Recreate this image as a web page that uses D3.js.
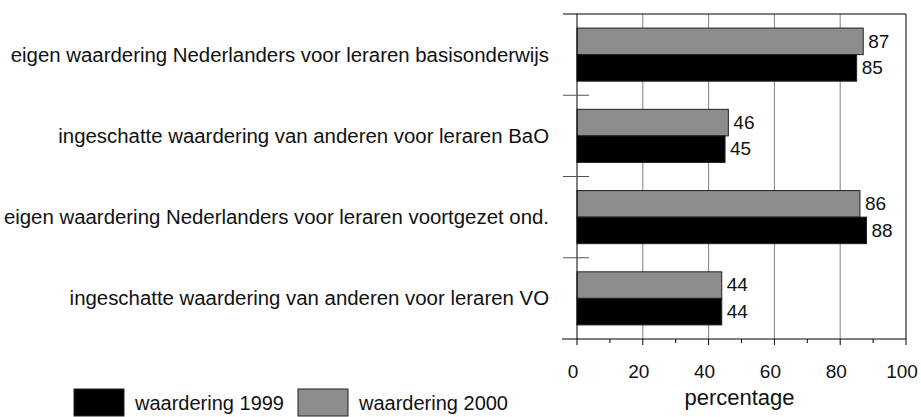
<!DOCTYPE html>
<html>
<head>
<meta charset="utf-8">
<script src="https://cdn.jsdelivr.net/npm/d3@7"></script>
<style>
  body { margin: 0; background: #fff; }
  text { font-family: "Liberation Sans", Arial, sans-serif; fill: #111; }
</style>
</head>
<body>
<div id="vis"></div>
<script>
// Waardering leraren 1999 / 2000

var categories = [
  'eigen waardering Nederlanders voor leraren basisonderwijs',
  'ingeschatte waardering van anderen voor leraren BaO',
  'eigen waardering Nederlanders voor leraren voortgezet ond.',
  'ingeschatte waardering van anderen voor leraren VO'
];
var series = ['waardering 2000', 'waardering 1999'];
var values1999 = [85, 45, 88, 44];
var values2000 = [87, 46, 86, 44];
var xTicks = [0, 20, 40, 60, 80, 100];
var xMinorTicks = [10, 30, 50, 70, 90];

var W = 921, H = 417;
var margin = { top: 14, right: 15, bottom: 78, left: 577 };
var width = W - margin.left - margin.right;
var height = H - margin.top - margin.bottom;

var colors = { 'waardering 1999': '#000000', 'waardering 2000': '#8c8c8c' };

var svg = d3.select('#vis').append('svg')
  .attr('width', W).attr('height', H);

var vis = svg.append('g')
  .attr('transform', `translate(${margin.left},${margin.top})`);

var xScale = d3.scaleLinear().domain([0, 100]).range([0, width]);
var yScale = d3.scaleBand().domain(categories).range([0, height]);
var inner = d3.scaleBand().domain(series).range([0, yScale.bandwidth()]).paddingOuter(0.53);

var rows = categories.map((c, i) => ({
  cat: c,
  bars: [
    { s: 'waardering 2000', v: values2000[i] },
    { s: 'waardering 1999', v: values1999[i] }
  ]
}));

// gridlines
vis.append('g').selectAll('line').data(xTicks.filter(t => t > 0 && t < 100)).join('line')
  .attr('x1', d => xScale(d)).attr('x2', d => xScale(d))
  .attr('y1', 0).attr('y2', height)
  .attr('stroke', '#808080').attr('stroke-width', 1);

// frame (top + right)
vis.append('line').attr('x1', -14).attr('x2', width).attr('y1', 0).attr('y2', 0)
  .attr('stroke', '#000');
vis.append('line').attr('x1', width).attr('x2', width).attr('y1', 0).attr('y2', height)
  .attr('stroke', '#000');

// bars
var groups = vis.selectAll('.row').data(rows).join('g')
  .attr('class', 'row')
  .attr('transform', d => `translate(0,${yScale(d.cat)})`);

groups.selectAll('rect').data(d => d.bars).join('rect')
  .attr('x', 0)
  .attr('y', d => inner(d.s))
  .attr('width', d => xScale(d.v))
  .attr('height', inner.bandwidth())
  .attr('fill', d => colors[d.s])
  .attr('stroke', '#222').attr('stroke-width', 1);

groups.selectAll('text.val').data(d => d.bars).join('text')
  .attr('class', 'val')
  .attr('x', d => xScale(d.v) + 5)
  .attr('y', d => inner(d.s) + inner.bandwidth() / 2)
  .attr('dy', '0.33em')
  .style('font-size', '19px')
  .text(d => d.v);

// left axis with category separators
vis.append('line').attr('x1', 0).attr('x2', 0).attr('y1', 0).attr('y2', height)
  .attr('stroke', '#000');
vis.append('g').selectAll('line').data(categories.slice(1)).join('line')
  .attr('x1', -14).attr('x2', 12)
  .attr('y1', d => yScale(d)).attr('y2', d => yScale(d))
  .attr('stroke', '#555');

// category labels
vis.append('g').selectAll('text').data(categories).join('text')
  .attr('text-anchor', 'end')
  .attr('transform', d => `translate(-28,${yScale(d) + yScale.bandwidth() / 2}) scale(1.02,1)`)
  .attr('dy', '0.35em')
  .style('font-size', '20px')
  .text(d => d);

// bottom axis
var xAxis = vis.append('g').attr('transform', `translate(0,${height})`);
xAxis.append('line').attr('x1', -15).attr('x2', width).attr('stroke', '#000');
xAxis.selectAll('line.major').data(xTicks).join('line').attr('class', 'major')
  .attr('x1', d => xScale(d)).attr('x2', d => xScale(d))
  .attr('y1', 0).attr('y2', 6).attr('stroke', '#000');
xAxis.selectAll('line.minor').data(xMinorTicks).join('line').attr('class', 'minor')
  .attr('x1', d => xScale(d)).attr('x2', d => xScale(d))
  .attr('y1', 0).attr('y2', 4).attr('stroke', '#000');
xAxis.selectAll('text').data(xTicks).join('text')
  .attr('text-anchor', 'middle')
  .attr('x', d => xScale(d) - 4)
  .attr('y', 39)
  .style('font-size', '19px')
  .text(d => d);

vis.append('text')
  .attr('text-anchor', 'middle')
  .attr('x', xScale(50) - 2)
  .attr('y', height + 66)
  .style('font-size', '22px')
  .text('percentage');

// legend
var legendItems = ['waardering 1999', 'waardering 2000'];
var legendX = d3.scalePoint().domain(legendItems).range([74, 298]);
var legend = svg.append('g').selectAll('g').data(legendItems).join('g')
  .attr('transform', d => `translate(${legendX(d)},389)`);
legend.append('rect')
  .attr('width', 50).attr('height', 27)
  .attr('fill', d => colors[d]).attr('stroke', '#222');
legend.append('text')
  .attr('x', 61).attr('y', 21)
  .style('font-size', '20px')
  .text(d => d);
</script>
</body>
</html>
